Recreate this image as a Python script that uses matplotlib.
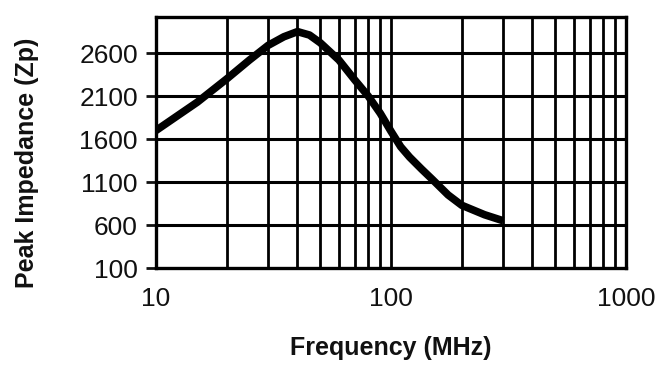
import numpy as np
import matplotlib.pyplot as plt

# curve
freq_mhz = [10, 15, 20, 25, 30, 35, 40, 45, 50, 60, 70, 80, 90, 100, 110, 120, 135, 150, 175, 200, 250, 300]
impedance = [1700, 2030, 2300, 2520, 2690, 2790, 2850, 2810, 2720, 2520, 2290, 2100, 1900, 1690, 1510, 1390, 1250, 1130, 950, 830, 720, 650]

y_ticks = [100, 600, 1100, 1600, 2100, 2600]
x_ticks = [10, 100, 1000]
x_tick_labels = ['10', '100', '1000']

plt.rcParams['font.family'] = ['Liberation Sans', 'DejaVu Sans']

fig = plt.figure(figsize=(6.63, 3.68), dpi=100, facecolor='white')
ax = fig.add_axes([0.2353, 0.2717, 0.7089, 0.6821])

ax.set_xscale('log')
ax.set_xlim(10, 1000)
ax.set_ylim(100, 3020)

# grid: every 1..9 in each decade, and the y ticks
minor = [m * d for d in (10, 100) for m in range(1, 10)]
for x in minor[1:]:
    ax.axvline(x, color='black', lw=2.0, zorder=1)
for y in y_ticks[1:]:
    ax.axhline(y, color='black', lw=2.2, zorder=1)

ax.plot(freq_mhz, impedance, color='black', lw=5.5, solid_capstyle='butt',
        solid_joinstyle='round', zorder=3)

ax.set_yticks(y_ticks)
ax.set_yticklabels([str(v) for v in y_ticks])
ax.set_xticks(x_ticks)
ax.set_xticklabels(x_tick_labels)
ax.xaxis.set_minor_locator(plt.NullLocator())
ax.tick_params(axis='y', direction='out', length=7, width=2, pad=6, labelsize=19, colors='#111111')
ax.tick_params(axis='x', length=0, pad=14, labelsize=19, colors='#111111')

for s in ax.spines.values():
    s.set_linewidth(2.4)

ax.set_ylabel('Peak Impedance (Zp)', fontsize=18, fontweight='bold', color='#111111')
ax.yaxis.set_label_coords(-0.25, 0.42)
ax.set_xlabel('Frequency (MHz)', fontsize=18, fontweight='bold', color='#111111')
ax.xaxis.set_label_coords(0.5, -0.27)

fig.savefig('out.png', dpi=100, facecolor='white')
